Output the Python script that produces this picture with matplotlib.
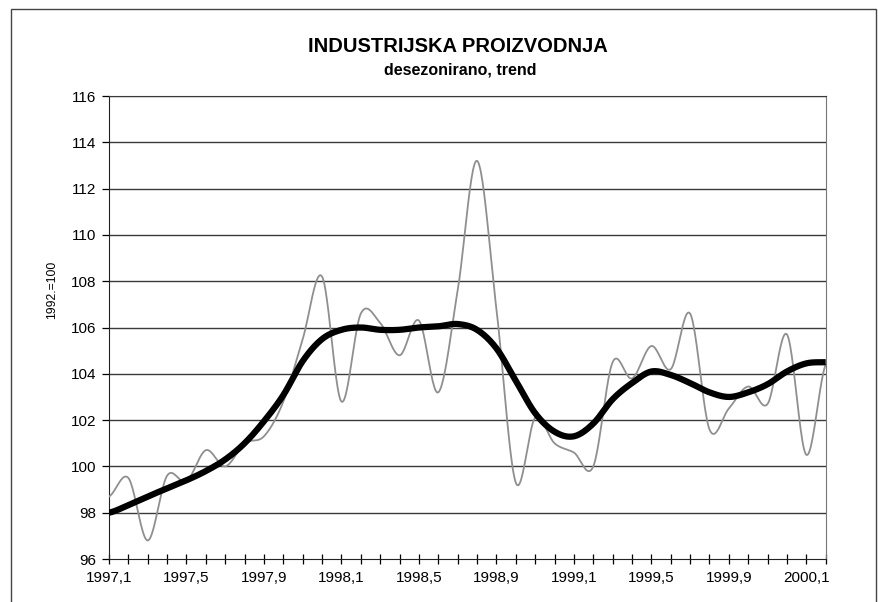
import numpy as np
import matplotlib.pyplot as plt
from matplotlib.patches import Rectangle

plt.rcParams['font.family'] = ['Liberation Sans', 'DejaVu Sans']

# monthly index 1992=100, 1997,1 .. 2000,2
tick_labels = ["1997,1", "1997,5", "1997,9", "1998,1", "1998,5", "1998,9",
               "1999,1", "1999,5", "1999,9", "2000,1"]
desezonirano = [98.7, 99.5, 96.8, 99.6, 99.35, 100.7, 100.0, 101.0, 101.3, 102.8,
                105.5, 108.2, 102.8, 106.6, 106.2, 104.8, 106.3, 103.2, 107.6, 113.2,
                106.8, 99.3, 102.1, 101.0, 100.6, 100.0, 104.5, 103.8, 105.2, 104.2,
                106.6, 101.6, 102.5, 103.45, 102.7, 105.7, 100.5, 104.4]
trend = [98.0, 98.33, 98.7, 99.05, 99.4, 99.8, 100.3, 101.0, 101.95, 103.08,
         104.55, 105.5, 105.9, 106.0, 105.9, 105.9, 106.0, 106.05, 106.15, 105.9,
         105.1, 103.7, 102.3, 101.5, 101.3, 101.85, 102.9, 103.6, 104.1, 103.95,
         103.6, 103.2, 103.0, 103.2, 103.55, 104.1, 104.45, 104.5]


def smooth(y, n=24):
    # excel-like smoothed line (bezier through the points)
    y = np.asarray(y, float)
    p = np.concatenate([[y[0]], y, [y[-1]]])
    t = np.linspace(0, 1, n, endpoint=False)
    xs, ys = [], []
    for i in range(len(y) - 1):
        p0, p1, p2, p3 = p[i], p[i + 1], p[i + 2], p[i + 3]
        c1 = p1 + (p2 - p0) / 6
        c2 = p2 - (p3 - p1) / 6
        ys.append((1 - t)**3 * p1 + 3 * (1 - t)**2 * t * c1 + 3 * (1 - t) * t**2 * c2 + t**3 * p2)
        xs.append(i + t)
    xs.append([len(y) - 1])
    ys.append([y[-1]])
    return np.concatenate(xs), np.concatenate(ys)


fig = plt.figure(figsize=(8.79, 6.02), dpi=100)
ax = fig.add_axes([109 / 879, 1 - 559 / 602, (825.7 - 109) / 879, (559 - 96) / 602])

x1, y1 = smooth(desezonirano)
x2, y2 = smooth(trend)
ax.plot(x1, y1, color='#8f8f8f', lw=1.3, zorder=3)
ax.plot(x2, y2, color='black', lw=4.5, solid_capstyle='butt', zorder=4)

ax.set_xlim(0, len(trend) - 1)
ax.set_ylim(96, 116)
ax.set_yticks(np.arange(96, 117, 2))
ax.set_xticks(np.arange(0, len(trend)), minor=True)
ax.set_xticks(np.arange(0, 4 * len(tick_labels), 4))
ax.set_xticklabels(tick_labels)
ax.tick_params(axis='x', which='both', direction='inout', length=7, width=0.9, pad=5)
ax.tick_params(axis='y', direction='out', length=5, width=0.9, pad=4)
ax.tick_params(labelsize=11)

for v in range(98, 117, 2):
    ax.axhline(v, color='#3a3a3a', lw=1.0, zorder=1)

ax.spines['left'].set_color('#222222')
ax.spines['bottom'].set_color('#222222')
ax.spines['top'].set_color('#3a3a3a')
ax.spines['right'].set_color('#777777')

fig.text(458 / 879, 1 - 46 / 602, "INDUSTRIJSKA PROIZVODNJA", ha='center', va='center',
         fontsize=14.5, fontweight='bold')
fig.text(460 / 879, 1 - 70 / 602, "desezonirano, trend", ha='center', va='center',
         fontsize=11.5, fontweight='bold')
fig.text(52 / 879, 1 - 290 / 602, "1992.=100", rotation=90, ha='center', va='center',
         fontsize=8.8)

# chart area frame
fig.patches.append(Rectangle((11 / 879, -0.05), (876 - 11) / 879, 1.05 - 9 / 602,
                             transform=fig.transFigure, fill=False,
                             edgecolor='#444444', lw=1.0))

fig.savefig('out.png', dpi=100)
